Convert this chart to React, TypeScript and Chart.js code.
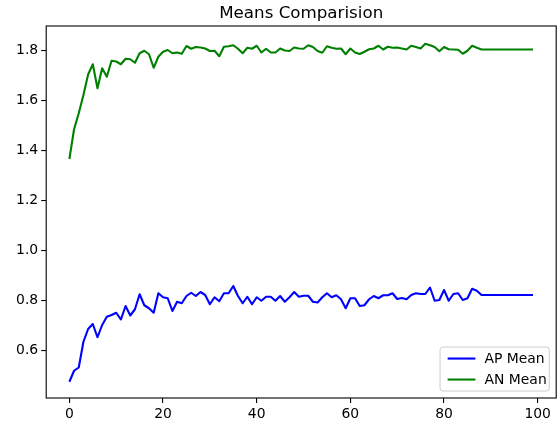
import React, { useEffect, useRef } from "react";
import { Chart, registerables } from "chart.js";

Chart.register(...registerables);

const epochs: number[] = [...Array(100).keys()];

const apMean: number[] = [
  0.476, 0.52, 0.533, 0.636, 0.687, 0.707, 0.654, 0.703, 0.736, 0.743,
  0.752, 0.725, 0.779, 0.741, 0.766, 0.826, 0.782, 0.77, 0.752, 0.83,
  0.814, 0.81, 0.759, 0.796, 0.79, 0.819, 0.832, 0.819, 0.835, 0.823,
  0.786, 0.814, 0.798, 0.83, 0.83, 0.859, 0.819, 0.79, 0.816, 0.786,
  0.814, 0.8, 0.816, 0.816, 0.8, 0.819, 0.796, 0.814, 0.835, 0.816,
  0.82, 0.82, 0.796, 0.793, 0.814, 0.83, 0.814, 0.822, 0.806, 0.77,
  0.81, 0.81, 0.779, 0.782, 0.806, 0.819, 0.81, 0.822, 0.822, 0.83,
  0.807, 0.811, 0.806, 0.823, 0.83, 0.827, 0.827, 0.853, 0.8, 0.803,
  0.843, 0.8, 0.827, 0.83, 0.803, 0.81, 0.848, 0.84, 0.823, 0.823,
  0.823, 0.823, 0.823, 0.823, 0.823, 0.823, 0.823, 0.823, 0.823, 0.823,
];

const anMean: number[] = [
  1.367, 1.486, 1.55, 1.623, 1.705, 1.746, 1.65, 1.73, 1.696, 1.76,
  1.757, 1.746, 1.768, 1.766, 1.752, 1.79, 1.8, 1.786, 1.732, 1.776,
  1.796, 1.803, 1.79, 1.793, 1.788, 1.819, 1.808, 1.815, 1.813, 1.809,
  1.799, 1.8, 1.778, 1.816, 1.818, 1.822, 1.808, 1.79, 1.812, 1.808,
  1.82, 1.793, 1.808, 1.793, 1.793, 1.809, 1.801, 1.799, 1.813, 1.809,
  1.808, 1.822, 1.815, 1.799, 1.792, 1.818, 1.812, 1.808, 1.809, 1.786,
  1.809, 1.793, 1.787, 1.796, 1.806, 1.809, 1.82, 1.805, 1.816, 1.812,
  1.813, 1.809, 1.805, 1.82, 1.815, 1.809, 1.828, 1.822, 1.815, 1.798,
  1.815, 1.806, 1.805, 1.804, 1.788, 1.8, 1.82, 1.812, 1.805, 1.805,
  1.805, 1.805, 1.805, 1.805, 1.805, 1.805, 1.805, 1.805, 1.805, 1.805,
];

const xTicks: number[] = [0, 20, 40, 60, 80, 100];
const yTicks: number[] = [0.6, 0.8, 1.0, 1.2, 1.4, 1.6, 1.8];
const seriesLabels: string[] = ["AP Mean", "AN Mean"];
const seriesColors: string[] = ["#0000ff", "#008000"];
const titleText = "Means Comparision";

const FONT = "'DejaVu Sans', sans-serif";

const framePlugin = {
  id: "frameTitleLegend",
  afterDraw(chart: any) {
    const { ctx, chartArea } = chart;
    const { left, right, top, bottom } = chartArea;
    ctx.save();
    // spines
    ctx.strokeStyle = "#000";
    ctx.lineWidth = 1.1;
    ctx.strokeRect(left, top, right - left, bottom - top);
    // title
    ctx.fillStyle = "#000";
    ctx.font = `16.7px ${FONT}`;
    ctx.textAlign = "center";
    ctx.textBaseline = "alphabetic";
    ctx.fillText(titleText, (left + right) / 2, top - 8.5);
    // legend
    const fs = 13.9;
    ctx.font = `${fs}px ${FONT}`;
    const textW = Math.max(...seriesLabels.map((l) => ctx.measureText(l).width));
    const pad = 0.4 * fs;
    const handleLen = 2 * fs;
    const handlePad = 0.8 * fs;
    const rowGap = 21;
    const boxW = pad * 2 + handleLen + handlePad + textW - 3;
    const boxH = 44;
    const bx = right - 0.5 * fs - boxW;
    const by = bottom - 0.5 * fs - boxH;
    const r = 0.2 * fs;
    ctx.beginPath();
    ctx.moveTo(bx + r, by);
    ctx.lineTo(bx + boxW - r, by);
    ctx.quadraticCurveTo(bx + boxW, by, bx + boxW, by + r);
    ctx.lineTo(bx + boxW, by + boxH - r);
    ctx.quadraticCurveTo(bx + boxW, by + boxH, bx + boxW - r, by + boxH);
    ctx.lineTo(bx + r, by + boxH);
    ctx.quadraticCurveTo(bx, by + boxH, bx, by + boxH - r);
    ctx.lineTo(bx, by + r);
    ctx.quadraticCurveTo(bx, by, bx + r, by);
    ctx.closePath();
    ctx.fillStyle = "rgba(255,255,255,0.8)";
    ctx.fill();
    ctx.strokeStyle = "#cccccc";
    ctx.lineWidth = 1;
    ctx.stroke();
    seriesLabels.forEach((label, i) => {
      const cy = by + 11.5 + i * rowGap;
      const hx = bx + pad + 2;
      ctx.strokeStyle = seriesColors[i];
      ctx.lineWidth = 2.1;
      ctx.beginPath();
      ctx.moveTo(hx, cy);
      ctx.lineTo(hx + handleLen, cy);
      ctx.stroke();
      ctx.fillStyle = "#000";
      ctx.textAlign = "left";
      ctx.textBaseline = "middle";
      ctx.fillText(label, hx + handleLen + handlePad - 2, cy + 0.5);
    });
    ctx.restore();
  },
};

export default function App() {
  const ref = useRef<HTMLCanvasElement | null>(null);

  useEffect(() => {
    if (!ref.current) return;
    Chart.defaults.font.family = FONT;
    const series = [apMean, anMean];
    const chart = new Chart(ref.current, {
      type: "line",
      data: {
        datasets: series.map((vals, s) => ({
          label: seriesLabels[s],
          data: epochs.map((e, i) => ({ x: e, y: vals[i] })),
          borderColor: seriesColors[s],
          backgroundColor: seriesColors[s],
          borderWidth: 2.1,
          pointRadius: 0,
          tension: 0,
          fill: false,
          borderJoinStyle: "round" as const,
        })),
      },
      options: {
        responsive: false,
        animation: false,
        layout: { padding: { top: 26, right: 1.8, left: 0, bottom: 0 } },
        plugins: {
          legend: { display: false },
          title: { display: false },
          tooltip: { enabled: false },
        },
        scales: {
          x: {
            type: "linear",
            min: -4.95,
            max: 103.95,
            afterBuildTicks: (s: any) => {
              s.ticks = xTicks.map((v) => ({ value: v }));
            },
            afterFit: (s: any) => {
              s.height = 25;
            },
            grid: {
              drawOnChartArea: false,
              drawTicks: true,
              tickLength: 5,
              color: "#000",
              tickColor: "#000",
              lineWidth: 1.1,
            },
            border: { display: false },
            ticks: {
              color: "#000",
              font: { size: 13.9, family: FONT },
              padding: 3,
              maxRotation: 0,
              autoSkip: false,
              callback: (v: any) => String(v),
            },
          },
          y: {
            type: "linear",
            min: 0.411,
            max: 1.899,
            afterBuildTicks: (s: any) => {
              s.ticks = yTicks.map((v) => ({ value: v }));
            },
            afterFit: (s: any) => {
              s.width = 46.2;
            },
            grid: {
              drawOnChartArea: false,
              drawTicks: true,
              tickLength: 5,
              color: "#000",
              tickColor: "#000",
              lineWidth: 1.1,
            },
            border: { display: false },
            ticks: {
              color: "#000",
              font: { size: 13.9, family: FONT },
              padding: 3,
              autoSkip: false,
              callback: (v: any) => Number(v).toFixed(1),
            },
          },
        },
      },
      plugins: [framePlugin],
    });
    return () => chart.destroy();
  }, []);

  return (
    <div style={{ position: "absolute", left: 0, top: 0, width: 558, height: 423, background: "#fff" }}>
      <canvas ref={ref} width={558} height={423} style={{ width: 558, height: 423, display: "block" }} />
    </div>
  );
}
